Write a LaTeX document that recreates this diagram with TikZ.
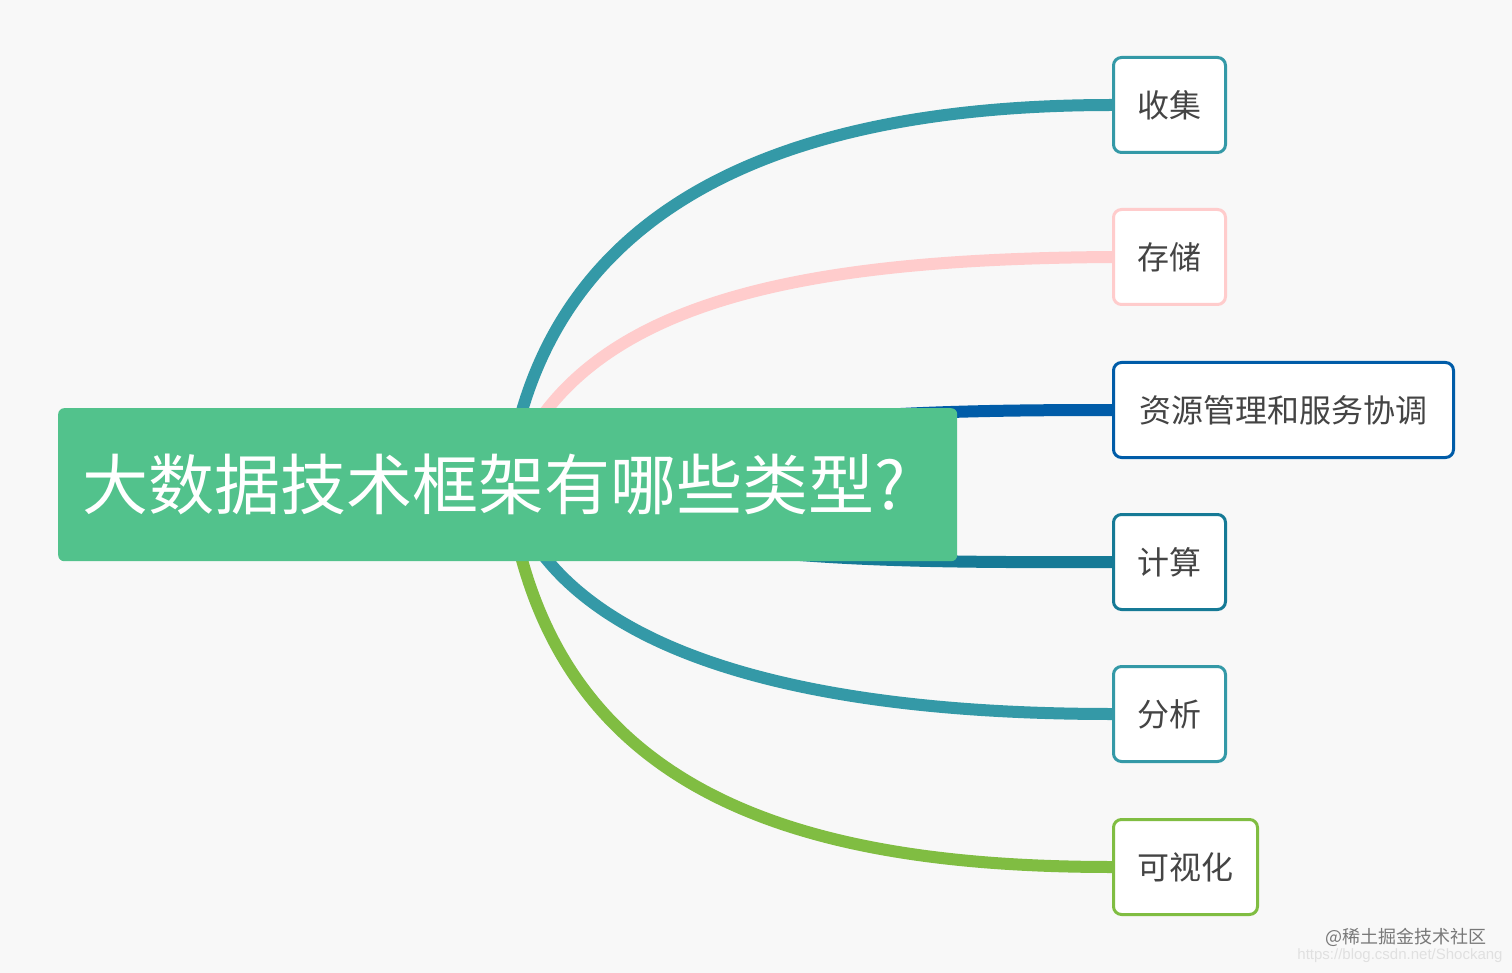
\documentclass[tikz,border=0pt]{standalone}
\usepackage{fontspec}
\newfontfamily\cjk{Noto Sans CJK SC}
\setsansfont{Liberation Sans}
\usetikzlibrary{backgrounds}
\definecolor{bgray}{RGB}{248,248,248}
\definecolor{rootgreen}{RGB}{82,194,140}
\definecolor{teal1}{RGB}{52,153,167}
\definecolor{pink1}{RGB}{255,204,204}
\definecolor{navy1}{RGB}{0,92,168}
\definecolor{teal2}{RGB}{22,122,150}
\definecolor{green1}{RGB}{128,189,66}
\definecolor{txtgray}{RGB}{68,68,68}
\tikzset{
  leaf/.style={draw=#1, fill=white, line width=3pt, rounded corners=8pt,
    anchor=west, minimum height=95pt, inner xsep=24pt, inner ysep=0pt,
    text=txtgray, font=\cjk\fontsize{32}{36}\selectfont},
  branch/.style={draw=#1, line width=12pt}
}
\begin{document}
\begin{tikzpicture}[x=1pt, y=-1pt]
  \useasboundingbox (0,0) rectangle (1512,973);
  \coordinate (hub) at (507,484);
  \node[leaf=teal1] (collect) at (1112,105) {收集};
  \node[leaf=pink1] (store) at (1112,257) {存储};
  \node[leaf=navy1, inner xsep=26pt] (resource) at (1112,410) {资源管理和服务协调};
  \node[leaf=teal2] (compute) at (1112,562) {计算};
  \node[leaf=teal1] (analyze) at (1112,714) {分析};
  \node[leaf=green1] (visual) at (1112,867) {可视化};
  \begin{scope}[on background layer]
    \fill[bgray] (0,0) rectangle (1512,973);
    \draw[branch=teal1] (hub) .. controls +(33,-264) and +(-352,0) .. (collect.west);
    \draw[branch=pink1] (hub) .. controls +(63,-184) and +(-312,2) .. (store.west);
    \draw[branch=navy1] (hub) .. controls +(193,-69) and +(-212,0) .. (resource.west);
    \draw[branch=teal2] (hub) .. controls +(143,76) and +(-262,1) .. (compute.west);
    \draw[branch=teal1] (hub) .. controls +(45,160) and +(-332,0) .. (analyze.west);
    \draw[branch=green1] (hub) .. controls +(38,300) and +(-332,0) .. (visual.west);
  \end{scope}
  \node[fill=rootgreen, rounded corners=6pt, anchor=north west, minimum width=899pt,
    minimum height=153pt, text width=851pt, inner xsep=24pt, align=left, text=white,
    font=\cjk\fontsize{66}{70}\selectfont] (root) at (58,408) {大数据技术框架有哪些类型?};
  \node[text={rgb,255:red,120;green,120;blue,120}, font=\cjk\fontsize{18}{20}\selectfont]
    (mark) at (1406,937) {@稀土掘金技术社区};
  \node[text={rgb,255:red,224;green,224;blue,224}, font=\sffamily\fontsize{15}{17}\selectfont]
    (url) at (1400,956) {https://blog.csdn.net/Shockang};
\end{tikzpicture}
\end{document}
